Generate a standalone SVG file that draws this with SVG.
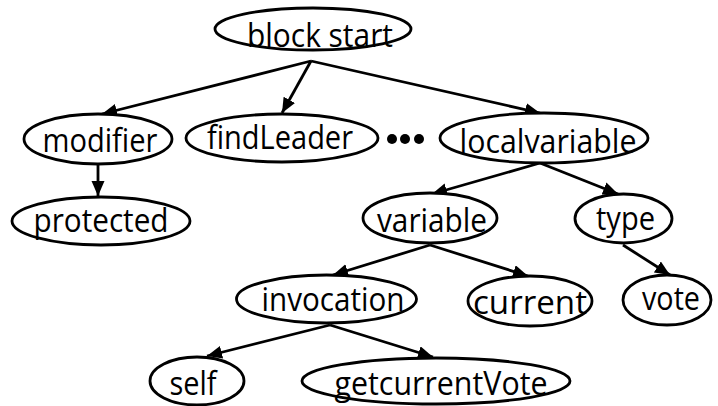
<svg xmlns="http://www.w3.org/2000/svg" width="718" height="406" viewBox="0 0 718 406">
<defs>
<marker id="arr" markerUnits="userSpaceOnUse" markerWidth="16" markerHeight="14" refX="15" refY="6.5" orient="auto">
<path d="M0,0 L15,6.5 L0,13 z" fill="#000"/>
</marker>
<style>
.n ellipse{fill:#fff;stroke:#000;stroke-width:2.8}
.n text{font-family:"Open Sans",Lato,"Liberation Sans",sans-serif;font-size:32px;fill:#000;text-anchor:middle}
.e line{stroke:#000;stroke-width:2.8;marker-end:url(#arr)}
</style>
</defs>
<rect width="718" height="406" fill="#fff"/>
<g class="e" id="connectors">
<line x1="311" y1="61" x2="102" y2="114"/>
<line x1="311" y1="61" x2="282" y2="113"/>
<line x1="311" y1="61" x2="540" y2="113"/>
<line x1="98" y1="165" x2="98" y2="196"/>
<line x1="540" y1="163" x2="432" y2="194"/>
<line x1="540" y1="163" x2="618" y2="194"/>
<line x1="430" y1="245" x2="333" y2="275"/>
<line x1="430" y1="245" x2="528" y2="276"/>
<line x1="623" y1="245" x2="670" y2="275"/>
<line x1="330" y1="325" x2="207" y2="356"/>
<line x1="330" y1="325" x2="433" y2="357"/>
</g>
<g class="n" id="n-blockstart"><ellipse cx="313" cy="29" rx="98" ry="21"/><text x="320" y="47" textLength="146" lengthAdjust="spacingAndGlyphs">block start</text></g>
<g class="n" id="n-modifier"><ellipse cx="98" cy="139" rx="74" ry="25"/><text x="100" y="152" textLength="115" lengthAdjust="spacingAndGlyphs">modifier</text></g>
<g class="n" id="n-findleader"><ellipse cx="282" cy="138" rx="96" ry="24"/><text x="280" y="149" textLength="146" lengthAdjust="spacingAndGlyphs">findLeader</text></g>
<g id="ellipsis"><circle cx="392" cy="139" r="5"/><circle cx="405" cy="139" r="5"/><circle cx="419" cy="139" r="5"/></g>
<g class="n" id="n-localvariable"><ellipse cx="544" cy="138" rx="104" ry="25"/><text x="548" y="153" textLength="177" lengthAdjust="spacingAndGlyphs">localvariable</text></g>
<g class="n" id="n-protected"><ellipse cx="101" cy="221" rx="89" ry="24"/><text x="101" y="232" textLength="135" lengthAdjust="spacingAndGlyphs">protected</text></g>
<g class="n" id="n-variable"><ellipse cx="430" cy="218" rx="67" ry="25"/><text x="432" y="232" textLength="110" lengthAdjust="spacingAndGlyphs">variable</text></g>
<g class="n" id="n-type"><ellipse cx="623.5" cy="218.5" rx="48.5" ry="24.5"/><text x="625.5" y="230" textLength="59" lengthAdjust="spacingAndGlyphs">type</text></g>
<g class="n" id="n-invocation"><ellipse cx="326.5" cy="299" rx="90" ry="24"/><text x="333" y="311" textLength="143" lengthAdjust="spacingAndGlyphs">invocation</text></g>
<g class="n" id="n-current"><ellipse cx="530" cy="301" rx="62" ry="25"/><text x="530" y="314" textLength="114" lengthAdjust="spacingAndGlyphs">current</text></g>
<g class="n" id="n-vote"><ellipse cx="667" cy="300" rx="44" ry="25"/><text x="671" y="310" textLength="58" lengthAdjust="spacingAndGlyphs">vote</text></g>
<g class="n" id="n-self"><ellipse cx="197" cy="381" rx="47" ry="24"/><text x="193" y="395" textLength="47" lengthAdjust="spacingAndGlyphs">self</text></g>
<g class="n" id="n-getcurrentvote"><ellipse cx="436" cy="381" rx="134" ry="23"/><text x="441" y="395" textLength="213" lengthAdjust="spacingAndGlyphs">getcurrentVote</text></g>
</svg>
